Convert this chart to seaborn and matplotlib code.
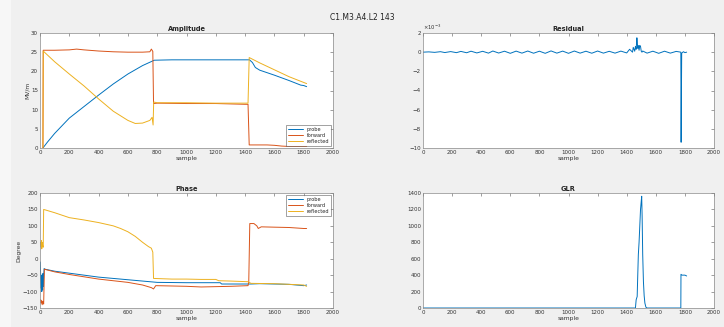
import numpy as np
import pandas as pd
import seaborn as sns
import matplotlib.pyplot as plt
from matplotlib.patches import Rectangle

# Amplitude (MV/m)
amp_probe_x = [20, 50, 100, 200, 300, 400, 500, 600, 700, 780, 900, 1200, 1430, 1450, 1470, 1500, 1600, 1700, 1780, 1800, 1820]
amp_probe_y = [0, 1.5, 3.8, 7.8, 10.8, 13.8, 16.7, 19.3, 21.5, 22.9, 23, 23, 23, 22.3, 21, 20.3, 19, 17.6, 16.4, 16.3, 16]
amp_fwd_x = [20, 22, 100, 200, 250, 300, 400, 500, 600, 700, 750, 760, 770, 775, 800, 1000, 1200, 1400, 1420, 1428, 1500, 1550, 1600, 1650, 1700, 1820]
amp_fwd_y = [0, 25.5, 25.5, 25.6, 25.8, 25.6, 25.3, 25.1, 25.0, 25.0, 25.1, 25.8, 25.2, 11.6, 11.7, 11.6, 11.6, 11.4, 11.4, 0.8, 0.8, 0.8, 0.7, 0.5, 0.4, 0.4]
amp_refl_x = [20, 22, 30, 100, 200, 300, 400, 500, 600, 650, 700, 750, 765, 772, 776, 800, 1000, 1200, 1420, 1428, 1500, 1600, 1700, 1820]
amp_refl_y = [0, 25.3, 25.0, 22.5, 19.3, 16.2, 12.8, 9.6, 7.2, 6.4, 6.5, 7.2, 8.0, 6.0, 12.0, 11.8, 11.8, 11.7, 11.7, 23.6, 22.2, 20.4, 18.6, 16.8]

# Phase (Degree)
ph_probe_x = [2, 5, 8, 10, 12, 15, 18, 20, 22, 25, 28, 35, 100, 200, 300, 400, 500, 600, 700, 800, 1000, 1230, 1240, 1440, 1500, 1600, 1700, 1800, 1820]
ph_probe_y = [-10, -60, -90, -50, -100, -60, -95, -45, -85, -55, -30, -32, -38, -44, -50, -56, -60, -64, -68, -72, -73, -73, -77, -77, -76, -77, -78, -82, -80]
ph_fwd_x = [5, 8, 12, 15, 20, 25, 30, 100, 200, 300, 400, 500, 600, 700, 760, 775, 790, 900, 1000, 1100, 1200, 1300, 1420, 1425, 1432, 1460, 1480, 1490, 1510, 1600, 1700, 1800, 1820]
ph_fwd_y = [-125, -135, -128, -140, -130, -138, -32, -40, -48, -55, -62, -67, -72, -80, -88, -92, -82, -83, -84, -86, -85, -84, -82, -70, 107, 107, 100, 92, 97, 96, 95, 92, 92]
ph_refl_x = [5, 8, 10, 12, 15, 18, 22, 25, 100, 200, 300, 400, 500, 550, 600, 650, 700, 740, 760, 770, 775, 900, 1000, 1100, 1200, 1220, 1300, 1420, 1440, 1600, 1800, 1820]
ph_refl_y = [50, 35, 55, 30, 50, 40, 35, 150, 140, 125, 118, 110, 100, 92, 82, 68, 50, 37, 32, 20, -60, -62, -62, -63, -63, -67, -68, -70, -75, -76, -80, -84]

# Residual (x 1e-3)
res_x = [0, 40, 80, 120, 150, 190, 230, 260, 300, 330, 370, 410, 450, 480, 520, 560, 600, 640, 680, 720, 760, 800, 840, 880, 920, 960,
         1000, 1040, 1080, 1120, 1160, 1200, 1240, 1280, 1320, 1360, 1400, 1420, 1440, 1445, 1455, 1460, 1465, 1470, 1473, 1476, 1480,
         1485, 1490, 1495, 1500, 1505, 1510, 1540, 1580, 1620, 1660, 1700, 1740, 1772, 1774, 1776, 1778, 1790, 1800, 1812]
res_y = [0, 0.03, -0.02, 0.05, -0.04, 0.06, -0.05, 0.08, -0.06, 0.1, -0.08, 0.09, -0.1, 0.12, -0.09, 0.1, -0.12, 0.11, -0.1, 0.12, -0.11, 0.1,
         -0.12, 0.13, -0.1, 0.11, -0.12, 0.12, -0.1, 0.1, -0.11, 0.12, -0.1, 0.09, -0.1, 0.11, -0.08, 0.3, 0.0, 0.5, 0.1, 0.6, 0.3, 1.5,
         1.0, 0.4, 0.7, 0.2, 0.7, 0.6, 0.1, 0.0, 0.12, -0.1, 0.1, -0.12, 0.1, -0.1, 0.08, 0.0, -9.4, -4.5, -0.1, 0.05, -0.05, 0.0]

# GLR
glr_x = [0, 1460, 1465, 1472, 1476, 1480, 1485, 1490, 1495, 1500, 1503, 1506, 1510, 1515, 1520, 1525, 1532, 1540, 1772, 1773, 1780, 1800, 1812]
glr_y = [0, 0, 100, 140, 400, 650, 800, 1000, 1200, 1300, 1360, 1120, 650, 320, 150, 60, 10, 0, 0, 410, 400, 400, 390]

blue, red, yellow = '#0072BD', '#D95319', '#EDB120'
fs = 4.3

sns.set_style('white')
plt.rcParams['font.family'] = ['DejaVu Sans']
fig = plt.figure(figsize=(7.24, 3.27), dpi=100, facecolor='#f0f0f0')
fig.patches.append(Rectangle((0, 0), 11 / 724, 1, transform=fig.transFigure, facecolor='#f7f7f7',
                             edgecolor='none', zorder=0))
fig.text(0.5, 0.945, 'C1.M3.A4.L2 143', ha='center', va='center', fontsize=5.5, color='#222222')

ax_amp = fig.add_axes([40 / 724, 1 - 148 / 327, 293 / 724, 115 / 327])
ax_res = fig.add_axes([423 / 724, 1 - 148 / 327, 291 / 724, 115 / 327])
ax_ph = fig.add_axes([40 / 724, 1 - 308 / 327, 293 / 724, 115 / 327])
ax_glr = fig.add_axes([423 / 724, 1 - 308 / 327, 291 / 724, 115 / 327])


def line(ax, x, y, color, label=None):
    sns.lineplot(x=x, y=y, ax=ax, color=color, lw=0.7, estimator=None, sort=False, label=label)


line(ax_amp, amp_probe_x, amp_probe_y, blue, 'probe')
line(ax_amp, amp_fwd_x, amp_fwd_y, red, 'forward')
line(ax_amp, amp_refl_x, amp_refl_y, yellow, 'reflected')
line(ax_ph, ph_probe_x, ph_probe_y, blue, 'probe')
line(ax_ph, ph_fwd_x, ph_fwd_y, red, 'forward')
line(ax_ph, ph_refl_x, ph_refl_y, yellow, 'reflected')
line(ax_res, res_x, res_y, blue)
line(ax_glr, glr_x, glr_y, blue)

ax_amp.set_ylim(0, 30)
ax_amp.set_yticks(np.arange(0, 31, 5))
ax_ph.set_ylim(-150, 200)
ax_ph.set_yticks(np.arange(-150, 201, 50))
ax_res.set_ylim(-10, 2)
ax_res.set_yticks(np.arange(-10, 3, 2))
ax_glr.set_ylim(0, 1400)
ax_glr.set_yticks(np.arange(0, 1401, 200))

for ax, title in [(ax_amp, 'Amplitude'), (ax_res, 'Residual'), (ax_ph, 'Phase'), (ax_glr, 'GLR')]:
    ax.set_facecolor('white')
    ax.set_xlim(0, 2000)
    ax.set_xticks(np.arange(0, 2001, 200))
    ax.set_title(title, fontsize=4.8, fontweight='bold', pad=1.5)
    ax.set_xlabel('sample', fontsize=fs, labelpad=0.5, color='#333333')
    ax.set_ylabel('')
    ax.tick_params(direction='in', length=2, width=0.4, labelsize=fs - 0.3, pad=1.5,
                   top=True, right=True, colors='#555555', labelcolor='#333333')
    for s in ax.spines.values():
        s.set_linewidth(0.5)
        s.set_color('#888888')

ax_amp.set_ylabel('MV/m', fontsize=fs, labelpad=1, color='#333333')
ax_ph.set_ylabel('Degree', fontsize=fs, labelpad=1, color='#333333')
ax_res.text(0.0, 1.01, r'$\times10^{-3}$', transform=ax_res.transAxes, fontsize=3.8, color='#333333',
            ha='left', va='bottom')

ax_amp.legend(loc='lower right', fontsize=3.6, frameon=True, fancybox=False, edgecolor='#333333',
              borderpad=0.4, handlelength=3, labelspacing=0.2, borderaxespad=0.4).get_frame().set_linewidth(0.4)
ax_ph.legend(loc='upper right', fontsize=3.6, frameon=True, fancybox=False, edgecolor='#333333',
             borderpad=0.4, handlelength=3, labelspacing=0.2, borderaxespad=0.4).get_frame().set_linewidth(0.4)

fig.savefig('out.png', dpi=100, facecolor=fig.get_facecolor())
